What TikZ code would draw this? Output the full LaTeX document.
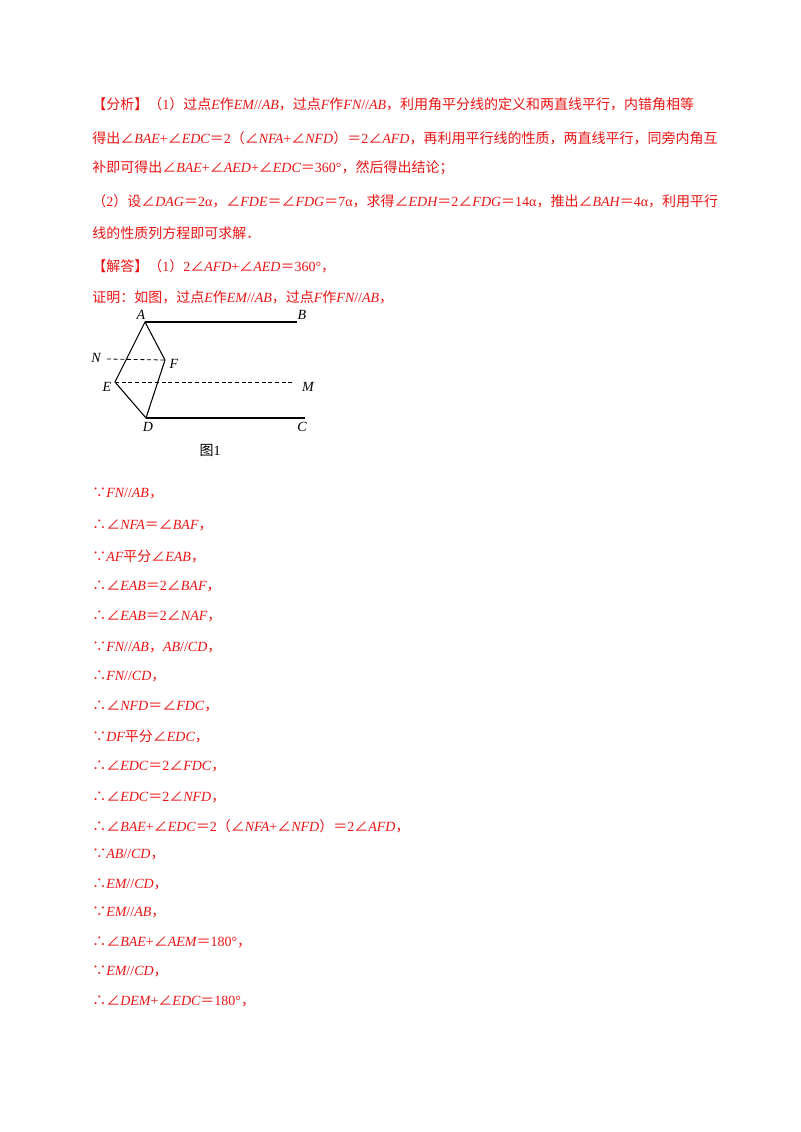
\documentclass[tikz,border=0pt]{standalone}
\usepackage{fontspec}
\setmainfont{Noto Sans CJK SC}
\newfontfamily\lt{Liberation Serif}
\newcommand\I[1]{{\lt\itshape #1}}
\newcommand\R[1]{{\lt #1}}
\definecolor{ink}{RGB}{235,20,20}
\begin{document}
\begin{tikzpicture}[x=0.75pt,y=-0.75pt,
  tl/.style={anchor=west,inner sep=0pt,text=ink,font=\fontsize{10.5}{12}\selectfont},
  lbl/.style={inner sep=0pt,font=\lt\itshape\fontsize{10.5}{12}\selectfont},
  seg/.style={line width=0.8pt},
  dsh/.style={line width=0.6pt,dash pattern=on 3pt off 2pt}]
\useasboundingbox (0,0) rectangle (800,1132);
\node[tl] (l1) at (92,104) {【分析】（\R{1}）过点\I{E}作\I{EM}\R{//}\I{AB}，过点\I{F}作\I{FN}\R{//}\I{AB}，利用角平分线的定义和两直线平行，内错角相等};
\node[tl] (l2) at (92,138) {得出∠\I{BAE}\R{+}∠\I{EDC}＝\R{2}（∠\I{NFA}\R{+}∠\I{NFD}）＝\R{2}∠\I{AFD}，再利用平行线的性质，两直线平行，同旁内角互};
\node[tl] (l3) at (92,168) {补即可得出∠\I{BAE}\R{+}∠\I{AED}\R{+}∠\I{EDC}＝\R{360°}，然后得出结论；};
\node[tl] (l4) at (92,201) {（\R{2}）设∠\I{DAG}＝\R{2α}，∠\I{FDE}＝∠\I{FDG}＝\R{7α}，求得∠\I{EDH}＝\R{2}∠\I{FDG}＝\R{14α}，推出∠\I{BAH}＝\R{4α}，利用平行};
\node[tl] (l5) at (92,233) {线的性质列方程即可求解．};
\node[tl] (l6) at (92,266) {【解答】（\R{1}）\R{2}∠\I{AFD}\R{+}∠\I{AED}＝\R{360°}，};
\node[tl] (l7) at (92,297) {证明：如图，过点\I{E}作\I{EM}\R{//}\I{AB}，过点\I{F}作\I{FN}\R{//}\I{AB}，};
% figure
\coordinate (A) at (145,322); \coordinate (B) at (297,322);
\coordinate (F) at (165,360); \coordinate (E) at (115,382);
\coordinate (D) at (146,418); \coordinate (C) at (305,418);
\coordinate (N0) at (107,359); \coordinate (M0) at (295,382);
\draw[seg] (A) -- (B); \draw[seg] (D) -- (C);
\draw[seg] (A) -- (F) -- (D) -- (E) -- cycle;
\draw[dsh] (N0) -- (F); \draw[dsh] (E) -- (M0);
\node[lbl] (lA) at (141,315) {A}; \node[lbl] (lB) at (302,315) {B};
\node[lbl] (lN) at (96,358) {N}; \node[lbl] (lF) at (174,364) {F};
\node[lbl] (lE) at (107,387) {E}; \node[lbl] (lM) at (308,387) {M};
\node[lbl] (lD) at (148,427) {D}; \node[lbl] (lC) at (302,427) {C};
\node[inner sep=0pt,font=\fontsize{10.5}{12}\selectfont] (cap) at (210,450) {图\R{1}};
% proof
\node[tl] (p1) at (92,493) {∵\I{FN}\R{//}\I{AB}，};
\node[tl] (p2) at (92,525) {∴∠\I{NFA}＝∠\I{BAF}，};
\node[tl] (p3) at (92,556) {∵\I{AF}平分∠\I{EAB}，};
\node[tl] (p4) at (92,586) {∴∠\I{EAB}＝\R{2}∠\I{BAF}，};
\node[tl] (p5) at (92,616) {∴∠\I{EAB}＝\R{2}∠\I{NAF}，};
\node[tl] (p6) at (92,647) {∵\I{FN}\R{//}\I{AB}，\I{AB}\R{//}\I{CD}，};
\node[tl] (p7) at (92,676) {∴\I{FN}\R{//}\I{CD}，};
\node[tl] (p8) at (92,706) {∴∠\I{NFD}＝∠\I{FDC}，};
\node[tl] (p9) at (92,736) {∵\I{DF}平分∠\I{EDC}，};
\node[tl] (p10) at (92,766) {∴∠\I{EDC}＝\R{2}∠\I{FDC}，};
\node[tl] (p11) at (92,797) {∴∠\I{EDC}＝\R{2}∠\I{NFD}，};
\node[tl] (p12) at (92,826) {∴∠\I{BAE}\R{+}∠\I{EDC}＝\R{2}（∠\I{NFA}\R{+}∠\I{NFD}）＝\R{2}∠\I{AFD}，};
\node[tl] (p13) at (92,854) {∵\I{AB}\R{//}\I{CD}，};
\node[tl] (p14) at (92,884) {∴\I{EM}\R{//}\I{CD}，};
\node[tl] (p15) at (92,912) {∵\I{EM}\R{//}\I{AB}，};
\node[tl] (p16) at (92,942) {∴∠\I{BAE}\R{+}∠\I{AEM}＝\R{180°}，};
\node[tl] (p17) at (92,971) {∵\I{EM}\R{//}\I{CD}，};
\node[tl] (p18) at (92,1001) {∴∠\I{DEM}\R{+}∠\I{EDC}＝\R{180°}，};
\end{tikzpicture}
\end{document}
